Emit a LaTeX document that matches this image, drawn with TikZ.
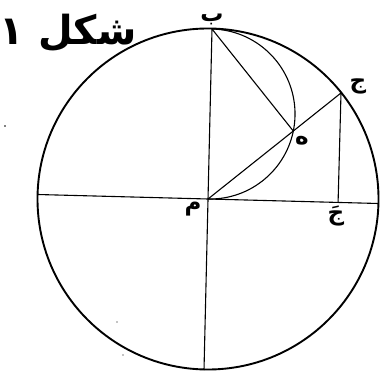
\documentclass[tikz,border=0pt]{standalone}
\usepackage{fontspec}
\newfontfamily\arabicfont[Script=Arabic]{DejaVu Sans}
\newfontfamily\arabicbold[Script=Arabic]{DejaVu Sans Bold}
\TeXXeTstate=1
\usetikzlibrary{calc}
\begin{document}
\begin{tikzpicture}[x=1pt,y=1pt,
  rim/.style={line width=1.9pt},
  thin line/.style={line width=1.1pt},
  lbl/.style={font=\arabicbold\fontsize{23}{23}\selectfont, inner sep=0pt},
  speck/.style={fill=black, draw=none}]
\useasboundingbox (0,0) rectangle (385,375);
% points
\coordinate (M) at (208,176);
\coordinate (B) at (212,346);
\coordinate (Bt) at (204,5);
\coordinate (L) at (37.6,180.5);
\coordinate (Rr) at (378.4,171.5);
\coordinate (J) at (341,282);
\coordinate (Jp) at ($(L)!(J)!(Rr)$);
\coordinate (H) at ($(M)!(B)!(J)$);
\coordinate (C) at ($(B)!0.5!(M)$);
% outer circle
\draw[rim] (M) circle[radius=170.5];
% diameters
\draw[thin line] (B) -- (Bt);
\draw[thin line] (L) -- (Rr);
% radius to J and perpendicular
\draw[thin line] (M) -- (J);
\draw[thin line] (J) -- (Jp);
\draw[thin line] (B) -- (H);
% semicircle on BM
\draw[thin line] let \p1=($(B)-(C)$), \n1={atan2(\y1,\x1)}, \n2={veclen(\x1,\y1)} in
  (B) arc[start angle=\n1, end angle=\n1-180, radius=\n2];
% labels
\node[lbl] (lB) at (212,356) {\beginR ب\endR};
\node[lbl] (lJ) at (358,289) {\beginR ج\endR};
\node[lbl] (lH) at (302,234) {\beginR ه\endR};
\node[lbl] (lM) at (193,166) {\beginR م\endR};
\node[lbl] (lJp) at (336,159) {\beginR جَ\endR};
% title
\node[font=\arabicbold\fontsize{40}{40}\selectfont, inner sep=0pt] (title) at (68,342) {\beginR شكل ١\endR};
% specks
\fill[speck] (5,249) circle[radius=0.8];
\fill[speck] (117,53) circle[radius=0.7];
\fill[speck] (123,20) circle[radius=0.7];
\end{tikzpicture}
\end{document}
